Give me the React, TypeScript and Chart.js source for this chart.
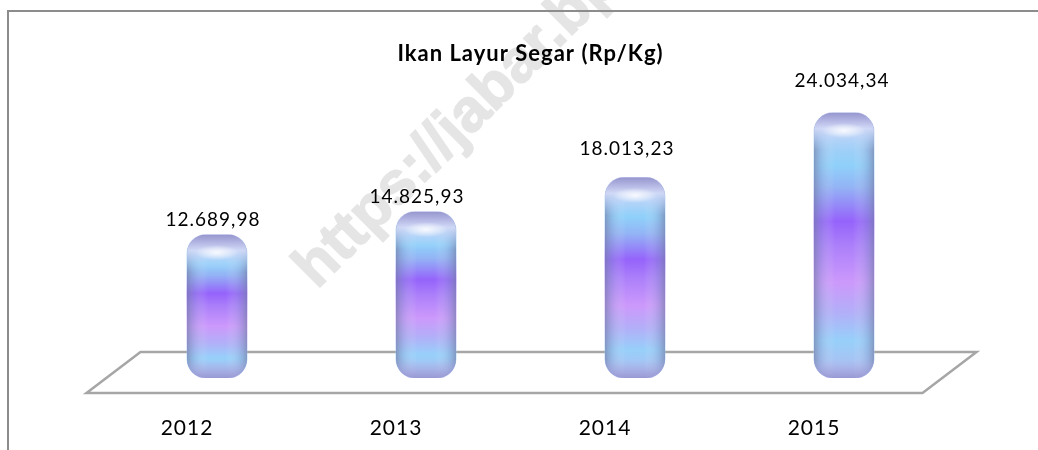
import React, { useEffect, useRef } from "react";
import { Chart, registerables } from "chart.js";

Chart.register(...registerables);

const categories = ["2012", "2013", "2014", "2015"];
const prices = [12689.98, 14825.93, 18013.23, 24034.34];
const priceLabels = ["12.689,98", "14.825,93", "18.013,23", "24.034,34"];
const labelShiftX = [-4, -9, -8, -2];
const labelRise = [15, 15, 28, 32];
const titleText = "Ikan Layur Segar (Rp/Kg)";
const watermark = "https://jabar.bps.go.id";
const FONT = "Lato, 'Open Sans', sans-serif";
const BAR_RADIUS = 19;

function rounded(ctx: CanvasRenderingContext2D, x: number, y: number, w: number, h: number, r: number) {
  ctx.beginPath();
  ctx.roundRect(x, y, w, h, r);
}

const scenePlugin = {
  id: "scene",
  beforeDraw(chart: any) {
    const { ctx, width, height } = chart;
    ctx.save();
    ctx.fillStyle = "#ffffff";
    ctx.fillRect(0, 0, width, height);
    // watermark
    ctx.translate(317, 290);
    ctx.rotate(-Math.PI / 4);
    ctx.font = `bold 60px 'Liberation Sans', sans-serif`;
    ctx.fillStyle = "#e5e5e5";
    ctx.strokeStyle = "#e5e5e5";
    ctx.lineWidth = 1.5;
    ctx.textAlign = "left";
    ctx.textBaseline = "alphabetic";
    ctx.fillText(watermark, 0, 0);
    ctx.strokeText(watermark, 0, 0);
    ctx.restore();
    // outer frame: top and left edges only
    ctx.save();
    ctx.strokeStyle = "#8c8c8c";
    ctx.lineWidth = 2;
    ctx.beginPath();
    ctx.moveTo(8, height);
    ctx.lineTo(8, 11);
    ctx.lineTo(width, 11);
    ctx.stroke();
    ctx.restore();
    ctx.letterSpacing = "1px";
  },
  beforeDatasetsDraw(chart: any) {
    const { ctx, chartArea } = chart;
    const { left, right, bottom } = chartArea;
    ctx.save();
    ctx.strokeStyle = "#a6a6a6";
    ctx.lineWidth = 2.5;
    ctx.lineJoin = "miter";
    ctx.beginPath();
    ctx.moveTo(left + 28, bottom - 26);
    ctx.lineTo(right + 28, bottom - 26);
    ctx.lineTo(right - 26, bottom + 15);
    ctx.lineTo(left - 26, bottom + 15);
    ctx.closePath();
    ctx.stroke();
    ctx.restore();
  },
  afterDatasetsDraw(chart: any) {
    const { ctx } = chart;
    const meta = chart.getDatasetMeta(0);
    meta.data.forEach((bar: any, i: number) => {
      const w = bar.width;
      const x = bar.x - w / 2;
      const y = bar.y;
      const h = bar.base - bar.y;
      ctx.save();
      rounded(ctx, x, y, w, h, BAR_RADIUS);
      ctx.clip();
      // cylinder side shading
      const side = ctx.createLinearGradient(x, 0, x + w, 0);
      side.addColorStop(0, "rgba(115,125,165,0.65)");
      side.addColorStop(0.12, "rgba(135,150,195,0.3)");
      side.addColorStop(0.35, "rgba(255,255,255,0)");
      side.addColorStop(0.65, "rgba(255,255,255,0)");
      side.addColorStop(0.88, "rgba(135,150,195,0.3)");
      side.addColorStop(1, "rgba(115,125,165,0.65)");
      ctx.fillStyle = side;
      ctx.fillRect(x, y, w, h);
      // top cap
      const cap = ctx.createLinearGradient(0, y, 0, y + 38);
      cap.addColorStop(0, "rgba(150,150,205,1)");
      cap.addColorStop(0.2, "rgba(178,180,226,1)");
      cap.addColorStop(0.42, "rgba(212,220,248,0.9)");
      cap.addColorStop(0.7, "rgba(190,215,250,0.5)");
      cap.addColorStop(1, "rgba(170,215,250,0)");
      ctx.fillStyle = cap;
      ctx.fillRect(x, y, w, 38);
      ctx.translate(bar.x, y + 18);
      ctx.scale(1, 0.34);
      const glow = ctx.createRadialGradient(0, 0, 0, 0, 0, 22);
      glow.addColorStop(0, "rgba(255,255,255,0.85)");
      glow.addColorStop(0.5, "rgba(255,255,255,0.45)");
      glow.addColorStop(1, "rgba(255,255,255,0)");
      ctx.fillStyle = glow;
      ctx.beginPath();
      ctx.arc(0, 0, 22, 0, Math.PI * 2);
      ctx.fill();
      ctx.restore();

      ctx.save();
      rounded(ctx, x, y, w, h, BAR_RADIUS);
      ctx.clip();
      const low = ctx.createLinearGradient(0, y + h - 18, 0, y + h);
      low.addColorStop(0, "rgba(170,170,225,0)");
      low.addColorStop(1, "rgba(145,145,205,0.8)");
      ctx.fillStyle = low;
      ctx.fillRect(x, y + h - 18, w, 18);
      ctx.restore();

      // value label
      ctx.save();
      ctx.font = `19px ${FONT}`;
      ctx.fillStyle = "#000000";
      ctx.textAlign = "center";
      ctx.textBaseline = "middle";
      ctx.fillText(priceLabels[i], bar.x + labelShiftX[i], y - labelRise[i]);
      ctx.restore();
    });
  },
};

export default function App() {
  const ref = useRef<HTMLCanvasElement>(null);
  useEffect(() => {
    const chart = new Chart(ref.current!, {
      type: "bar",
      data: {
        labels: categories,
        datasets: [
          {
            data: prices,
            base: -650,
            barThickness: 60,
            borderWidth: 0,
            borderSkipped: false,
            borderRadius: BAR_RADIUS,
            backgroundColor: (c: any) => {
              const { chart: ch, dataIndex } = c;
              const s = ch.scales?.y;
              if (!s || dataIndex === undefined) return "#8fc8f5";
              const top = s.getPixelForValue(prices[dataIndex]);
              const bot = s.getPixelForValue(-650);
              if (!Number.isFinite(top) || !Number.isFinite(bot)) return "#8fc8f5";
              const g = ch.ctx.createLinearGradient(0, top, 0, bot);
              g.addColorStop(0, "#c6cdf2");
              g.addColorStop(0.2, "#8fd0fa");
              g.addColorStop(0.28, "#93b4f5");
              g.addColorStop(0.41, "#9563fb");
              g.addColorStop(0.5, "#ab7ffa");
              g.addColorStop(0.64, "#cc99fb");
              g.addColorStop(0.75, "#b3aef8");
              g.addColorStop(0.86, "#97d0fa");
              g.addColorStop(1, "#b4b8ee");
              return g;
            },
          } as any,
        ],
      },
      options: {
        animation: false,
        responsive: false,
        layout: { padding: { left: 112.5, right: 89.5, top: 41, bottom: 0 } },
        plugins: {
          legend: { display: false },
          tooltip: { enabled: false },
          title: {
            display: true,
            text: titleText,
            color: "#000000",
            font: { family: FONT, size: 22, weight: "bold" },
            padding: { top: 0, bottom: 10.6 },
          },
        },
        scales: {
          x: {
            afterFit: (s: any) => {
              s.height = 72;
            },
            grid: { display: false, drawTicks: false },
            border: { display: false },
            ticks: {
              color: "#000000",
              font: { family: FONT, size: 21 },
              padding: 38,
              labelOffset: -30,
              maxRotation: 0,
            },
          },
          y: { display: false, min: -650, max: 27257 },
        },
      },
      plugins: [scenePlugin],
    } as any);
    return () => chart.destroy();
  }, []);
  return (
    <canvas
      ref={ref}
      width={1038}
      height={450}
      style={{ position: "fixed", left: 0, top: 0, width: 1038, height: 450, display: "block" }}
    />
  );
}
